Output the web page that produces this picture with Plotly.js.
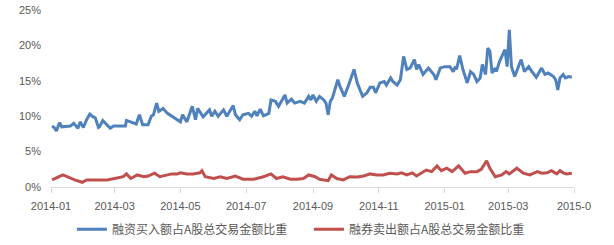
<!DOCTYPE html>
<html>
<head>
<meta charset="utf-8">
<script src="https://cdn.plot.ly/plotly-3.0.1.min.js"></script>
<style>html,body{margin:0;padding:0;background:#fff;}#chart{width:614px;height:245px;}</style>
</head>
<body>
<div id="chart"></div>
<script>
const seriesNames = ['融资买入额占A股总交易金额比重', '融券卖出额占A股总交易金额比重'];

const blueDates = ['2014-01-02','2014-01-04','2014-01-06','2014-01-09','2014-01-11','2014-01-15','2014-01-19','2014-01-22','2014-01-26','2014-01-28','2014-01-31',
'2014-02-03','2014-02-06','2014-02-09','2014-02-11','2014-02-14','2014-02-15','2014-02-18','2014-02-22','2014-02-25','2014-02-28',
'2014-03-04','2014-03-11','2014-03-12','2014-03-17','2014-03-21','2014-03-24','2014-03-27',
'2014-04-01','2014-04-04','2014-04-06','2014-04-09','2014-04-11','2014-04-15','2014-04-19','2014-04-23',
'2014-05-01','2014-05-03','2014-05-07','2014-05-12','2014-05-15','2014-05-17','2014-05-22','2014-05-25','2014-05-28','2014-05-30',
'2014-06-02','2014-06-05','2014-06-10','2014-06-13','2014-06-19','2014-06-21','2014-06-25','2014-06-28',
'2014-07-03','2014-07-06','2014-07-09','2014-07-11','2014-07-14','2014-07-17','2014-07-22','2014-07-24','2014-07-28','2014-07-31',
'2014-08-03','2014-08-06','2014-08-08','2014-08-12','2014-08-15','2014-08-20','2014-08-24','2014-08-26','2014-08-28','2014-08-30',
'2014-09-01','2014-09-04','2014-09-07','2014-09-11','2014-09-13','2014-09-15','2014-09-17','2014-09-19','2014-09-21','2014-09-24','2014-09-26','2014-09-30',
'2014-10-04','2014-10-09','2014-10-12','2014-10-14','2014-10-17','2014-10-21','2014-10-24','2014-10-27','2014-10-29',
'2014-11-02','2014-11-06','2014-11-08','2014-11-12','2014-11-14','2014-11-18','2014-11-21','2014-11-24','2014-11-27','2014-11-30',
'2014-12-04','2014-12-06','2014-12-08','2014-12-12','2014-12-17','2014-12-22','2014-12-24','2014-12-28',
'2015-01-01','2015-01-06','2015-01-09','2015-01-11','2015-01-12','2015-01-15','2015-01-18','2015-01-20','2015-01-22','2015-01-25','2015-01-28','2015-01-31',
'2015-02-03','2015-02-05','2015-02-08','2015-02-10','2015-02-12','2015-02-14','2015-02-17','2015-02-18','2015-02-21','2015-02-26','2015-02-28',
'2015-03-02','2015-03-04','2015-03-07','2015-03-13','2015-03-16','2015-03-20','2015-03-23','2015-03-27',
'2015-04-01','2015-04-04','2015-04-07','2015-04-12','2015-04-14','2015-04-16','2015-04-18','2015-04-21','2015-04-23','2015-04-26','2015-04-29'];

const blueValues = [8.6,8.4,7.9,9.1,8.5,8.6,8.6,9.0,8.3,9.2,8.4,
9.5,10.3,9.9,9.8,8.4,8.5,9.4,8.8,8.3,8.6,
8.6,8.6,9.4,9.1,8.9,10.2,8.8,
8.8,10.0,10.2,11.85,10.7,11.1,10.4,10.0,
9.2,10.2,9.2,11.4,9.5,11.1,9.9,10.4,10.9,10.0,
10.7,10.0,10.9,10.0,11.5,10.2,9.5,10.2,
10.4,10.0,10.7,10.05,11.0,10.05,10.4,12.3,12.1,11.4,
12.3,13.0,11.85,12.4,11.85,12.1,11.85,12.3,12.8,12.3,
13.0,12.1,12.8,12.3,11.85,10.2,12.1,12.6,13.5,15.15,14.2,12.8,
14.4,16.6,14.7,14.0,12.8,13.3,14.1,14.1,13.3,
14.7,14.9,14.4,15.4,14.9,14.4,15.15,18.45,16.6,16.8,
18.0,16.6,17.3,15.9,16.8,15.9,15.15,16.8,
17.0,17.0,16.3,17.0,16.6,18.55,16.6,15.6,14.7,16.3,15.9,14.9,
15.4,17.3,15.9,19.6,19.2,16.1,16.8,16.3,17.75,19.4,17.0,
22.2,17.0,15.6,18.0,16.3,17.0,16.3,15.5,
16.8,15.9,16.1,15.6,15.15,13.7,15.4,15.9,15.4,15.6,15.5];

const redDates = ['2014-01-02','2014-01-08','2014-01-12','2014-01-17','2014-01-23','2014-01-30',
'2014-02-03','2014-02-12','2014-02-22',
'2014-03-01','2014-03-09','2014-03-12','2014-03-16','2014-03-22','2014-03-28',
'2014-04-01','2014-04-07','2014-04-12','2014-04-18','2014-04-23','2014-04-28',
'2014-05-01','2014-05-07','2014-05-13','2014-05-19','2014-05-21','2014-05-24',
'2014-06-01','2014-06-07','2014-06-13','2014-06-21','2014-06-28',
'2014-07-08','2014-07-17','2014-07-24','2014-07-29',
'2014-08-04','2014-08-11','2014-08-17','2014-08-23','2014-08-28',
'2014-09-03','2014-09-07','2014-09-15','2014-09-18','2014-09-23','2014-09-29',
'2014-10-05','2014-10-12','2014-10-18','2014-10-24','2014-10-30',
'2014-11-05','2014-11-11','2014-11-18','2014-11-22','2014-11-27',
'2014-12-02','2014-12-06','2014-12-11','2014-12-15','2014-12-20','2014-12-25','2014-12-29',
'2015-01-03','2015-01-08','2015-01-14','2015-01-20','2015-01-25','2015-01-31',
'2015-02-04','2015-02-09','2015-02-12','2015-02-17','2015-02-23','2015-02-27',
'2015-03-02','2015-03-09','2015-03-15','2015-03-21','2015-03-28',
'2015-04-01','2015-04-06','2015-04-10','2015-04-15','2015-04-18','2015-04-21','2015-04-24','2015-04-29'];

const redValues = [1.0,1.45,1.7,1.4,1.0,0.67,
1.0,1.0,1.0,
1.2,1.45,1.85,1.2,1.7,1.45,
1.55,1.95,1.45,1.7,1.85,1.85,
2.0,1.85,1.85,2.0,2.3,1.45,
1.2,1.45,1.2,1.55,1.1,
1.1,1.45,1.85,1.2,
1.45,1.1,1.1,1.2,1.7,
1.45,1.1,0.9,1.7,1.2,1.0,
1.45,1.4,1.55,1.85,1.7,
1.7,1.95,1.85,2.0,1.7,
2.0,1.55,2.0,2.4,2.17,2.97,2.3,
2.65,2.17,2.97,1.95,2.17,2.17,
2.5,3.7,2.65,1.45,1.7,2.17,
1.85,2.65,1.95,1.7,2.17,
1.95,2.0,2.3,1.85,2.3,2.0,1.85,1.95];

const tickVals = ['2014-01-01','2014-03-01','2014-05-01','2014-07-01','2014-09-01','2014-11-01','2015-01-01','2015-03-01','2015-05-01'];
const tickLabels = ['2014-01','2014-03','2014-05','2014-07','2014-09','2014-11','2015-01','2015-03','2015-0'];
const yTicks = [0,5,10,15,20,25];
const yTickLabels = ['0%','5%','10%','15%','20%','25%'];

const traces = [
  {x: blueDates, y: blueValues, name: seriesNames[0], type: 'scatter', mode: 'lines',
   line: {color: '#4F81BD', width: 3, shape: 'linear'}},
  {x: redDates, y: redValues, name: seriesNames[1], type: 'scatter', mode: 'lines',
   line: {color: '#C0504D', width: 3, shape: 'linear'}}
];

const layout = {
  width: 614, height: 245,
  margin: {l: 51, r: 40, t: 10, b: 58, pad: 0, autoexpand: false},
  paper_bgcolor: '#ffffff', plot_bgcolor: '#ffffff',
  font: {family: 'Liberation Sans, Arial, sans-serif', size: 11, color: '#595959'},
  showlegend: true,
  xaxis: {
    type: 'date', range: ['2014-01-01', '2015-05-01'],
    tickmode: 'array', tickvals: tickVals, ticktext: tickLabels,
    showgrid: false, zeroline: false,
    showline: true, linecolor: '#D9D9D9', linewidth: 1,
    ticks: 'outside', ticklen: 5, tickcolor: '#D9D9D9',
    ticklabelstandoff: 4,
    tickfont: {size: 11, color: '#595959'}
  },
  yaxis: {
    range: [0, 25], tickmode: 'array', tickvals: yTicks, ticktext: yTickLabels,
    showgrid: false, zeroline: false, showline: false, ticks: '',
    ticklabelstandoff: 9,
    tickfont: {size: 11, color: '#595959'}
  },
  legend: {
    orientation: 'h', x: 0.04, xanchor: 'left', y: -0.239, yanchor: 'middle',
    bgcolor: 'rgba(0,0,0,0)',
    font: {family: 'Noto Sans CJK SC, sans-serif', size: 12, color: '#595959'},
    itemwidth: 30, tracegroupgap: 0,
    entrywidth: 192, entrywidthmode: 'pixels'
  }
};

Plotly.newPlot('chart', traces, layout, {displayModeBar: false, staticPlot: true});
</script>
</body>
</html>
